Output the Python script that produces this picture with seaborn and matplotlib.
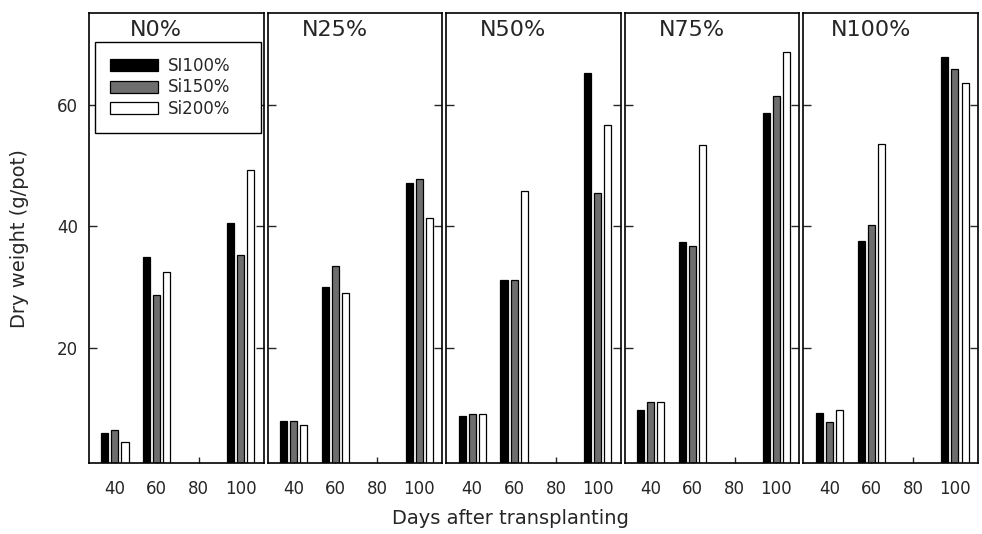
import matplotlib
matplotlib.use("Agg")
import matplotlib.pyplot as plt
import numpy as np
import pandas as pd
import seaborn as sns

sns.set_style("ticks")
plt.rcParams["font.family"] = ["DejaVu Sans"]

# ---- data -------------------------------------------------------------
tick_days = ["40", "60", "80", "100"]          # x tick labels / category order
bar_days = ["40", "60", "100"]                 # sampling dates with bars
panels = ["N0%", "N25%", "N50%", "N75%", "N100%"]
series = ["SI100%", "Si150%", "Si200%"]
colors = ["#000000", "#6e6e6e", "#ffffff"]

# rows = series (SI100%, Si150%, Si200%), cols = days 40, 60, 100
n0 = [[6.0, 35.0, 40.5], [6.5, 28.7, 35.3], [4.4, 32.5, 49.3]]
n25 = [[8.0, 30.0, 47.2], [7.9, 33.5, 47.9], [7.2, 29.0, 41.4]]
n50 = [[8.8, 31.2, 65.3], [9.0, 31.2, 45.6], [9.0, 45.9, 56.8]]
n75 = [[9.8, 37.4, 58.7], [11.0, 36.8, 61.5], [11.0, 53.5, 68.7]]
n100 = [[9.3, 37.6, 68.0], [7.7, 40.2, 66.0], [9.8, 53.6, 63.7]]

rows = []
for p, vals in zip(panels, [n0, n25, n50, n75, n100]):
    for s, v in zip(series, vals):
        for d, y in zip(bar_days, v):
            rows.append({"panel": p, "si": s, "day": d, "weight": y})
df = pd.DataFrame(rows)

# ---- figure -----------------------------------------------------------
fig, axes = plt.subplots(1, 5, figsize=(9.82, 5.34), dpi=100, sharey=True)
fig.subplots_adjust(left=89 / 982, right=978 / 982,
                    bottom=1 - 463 / 534, top=1 - 13 / 534, wspace=0.023)

pal = dict(zip(series, colors))
for i, (ax, p) in enumerate(zip(axes, panels)):
    sns.barplot(data=df[df["panel"] == p], x="day", y="weight", hue="si",
                order=tick_days, hue_order=series, palette=pal,
                edgecolor="black", linewidth=0.9, width=0.72, gap=0.3,
                saturation=1, errorbar=None, legend=(i == 0), ax=ax)
    ax.set_xlim(-0.62, 3.55)
    ax.set_ylim(1.0, 75.2)
    ax.set_yticks([20, 40, 60])
    ax.set_xlabel("")
    ax.set_ylabel("")
    ax.tick_params(axis="y", direction="in", left=True, right=True,
                   length=6, width=1, labelsize=12, pad=8,
                   labelleft=(i == 0))
    ax.tick_params(axis="x", direction="in", length=4, width=1,
                   labelsize=12, pad=12)
    for sp in ax.spines.values():
        sp.set_visible(True)
        sp.set_linewidth(1.2)
        sp.set_color("black")
    ax.text(0.385, 0.985, p, transform=ax.transAxes, ha="center", va="top",
            fontsize=16)

sns.move_legend(axes[0], "upper left", bbox_to_anchor=(0.034, 0.736, 0.954, 0.2),
                mode="expand", borderaxespad=0, title=None, frameon=True,
                fancybox=False, edgecolor="black", framealpha=1, fontsize=12,
                handlelength=2.9, handleheight=0.72, handletextpad=0.6,
                labelspacing=0.22, borderpad=0.9)
axes[0].get_legend().get_frame().set_linewidth(1.0)

fig.text(20 / 982, 1 - 239 / 534, "Dry weight (g/pot)", rotation=90,
         ha="center", va="center", fontsize=14)
fig.text(510 / 982, 1 - 519 / 534, "Days after transplanting",
         ha="center", va="center", fontsize=14)

fig.savefig("out.png", dpi=100)
